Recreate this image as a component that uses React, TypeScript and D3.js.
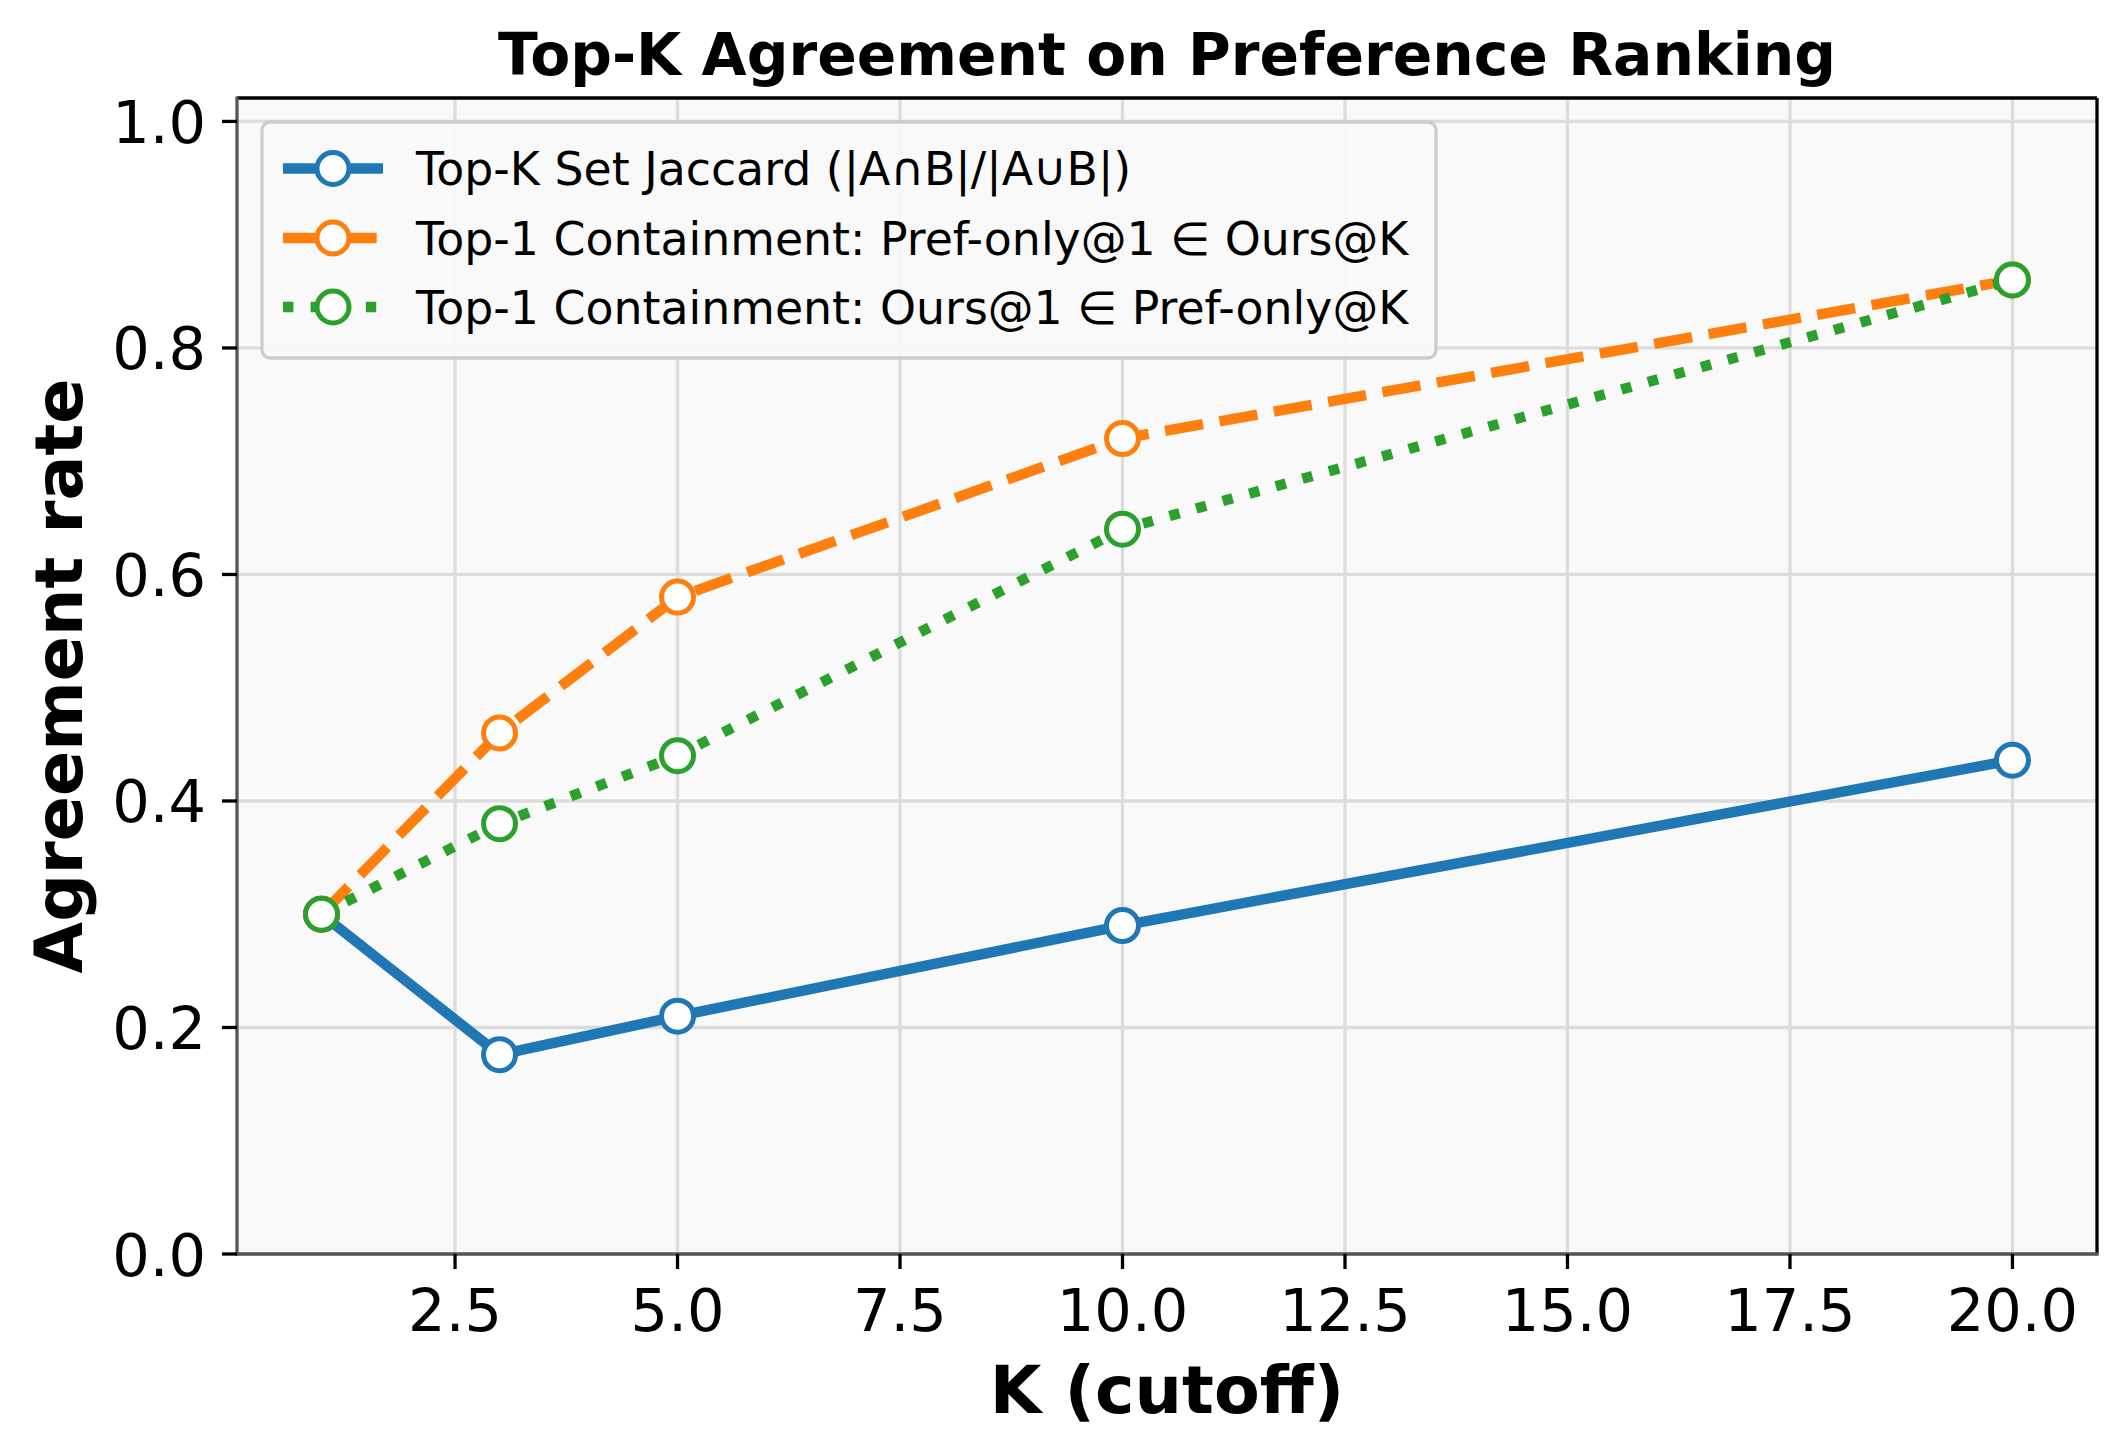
import React from "react";
import * as d3 from "d3";

const kValues = [1, 3, 5, 10, 20];
const jaccard = [0.3, 0.176, 0.21, 0.29, 0.436];
const prefInOurs = [0.3, 0.46, 0.58, 0.72, 0.86];
const oursInPref = [0.3, 0.38, 0.44, 0.64, 0.86];
const xTicks = [2.5, 5.0, 7.5, 10.0, 12.5, 15.0, 17.5, 20.0];
const yTicks = [0.0, 0.2, 0.4, 0.6, 0.8, 1.0];
const seriesNames = [
  "Top-K Set Jaccard (|A∩B|/|A∪B|)",
  "Top-1 Containment: Pref-only@1 ∈ Ours@K",
  "Top-1 Containment: Ours@1 ∈ Pref-only@K",
];
const seriesColors = ["#1f77b4", "#ff7f0e", "#2ca02c"];
const seriesDash = ["none", "38.5,16.7", "10.4,17.2"];
const titleText = "Top-K Agreement on Preference Ranking";
const xLabel = "K (cutoff)";
const yLabel = "Agreement rate";

const W = 2126;
const H = 1455;
const L = 237;
const R = 2097;
const T = 98;
const B = 1254;
const FONT = "'DejaVu Sans', sans-serif";

export default function App() {
  const x = d3.scaleLinear().domain([0.05, 20.95]).range([L, R]);
  const y = d3.scaleLinear().domain([0, 1.0207]).range([B, T]);
  const series = [jaccard, prefInOurs, oursInPref];
  const line = d3
    .line<[number, number]>()
    .x((d) => x(d[0]))
    .y((d) => y(d[1]));
  const lw = 10.4;
  const mr = 16;
  const msw = 5;

  const legX = 262;
  const legY = 122;
  const legW = 1174;
  const legH = 236;
  const rowY = [168.5, 238, 307];

  return (
    <svg
      width={W}
      height={H}
      style={{ position: "absolute", left: 0, top: 0, display: "block" }}
      fontFamily={FONT}
    >
      <rect x={0} y={0} width={W} height={H} fill="#ffffff" />
      <rect x={L} y={T} width={R - L} height={B - T} fill="#f9f9f9" />
      {/* grid */}
      {xTicks.map((t) => (
        <line key={"gx" + t} x1={x(t)} x2={x(t)} y1={T} y2={B} stroke="#dcdcdc" strokeWidth={3.3} />
      ))}
      {yTicks.map((t) => (
        <line key={"gy" + t} x1={L} x2={R} y1={y(t)} y2={y(t)} stroke="#dcdcdc" strokeWidth={3.3} />
      ))}
      {/* series */}
      {series.map((vals, i) => {
        const pts = kValues.map((k, j) => [k, vals[j]] as [number, number]);
        return (
          <g key={"s" + i}>
            <path
              d={line(pts) || ""}
              fill="none"
              stroke={seriesColors[i]}
              strokeWidth={lw}
              strokeDasharray={seriesDash[i]}
              strokeLinejoin="round"
              strokeLinecap="butt"
            />
            {pts.map((p, j) => (
              <circle
                key={j}
                cx={x(p[0])}
                cy={y(p[1])}
                r={mr}
                fill="#ffffff"
                stroke={seriesColors[i]}
                strokeWidth={msw}
              />
            ))}
          </g>
        );
      })}
      {/* spines */}
      <line x1={L} x2={R} y1={T} y2={T} stroke="#000" strokeWidth={3.3} />
      <line x1={R} x2={R} y1={T} y2={B} stroke="#000" strokeWidth={3.3} />
      <line x1={L} x2={L} y1={T - 1.6} y2={B + 1.6} stroke="#555555" strokeWidth={3.3} />
      <line x1={L - 1.6} x2={R + 1.6} y1={B} y2={B} stroke="#555555" strokeWidth={3.3} />
      {/* ticks */}
      {xTicks.map((t) => (
        <g key={"xt" + t}>
          <line x1={x(t)} x2={x(t)} y1={B} y2={B + 15} stroke="#000" strokeWidth={3.3} />
          <text x={x(t)} y={1331} fontSize={59} textAnchor="middle" fill="#000">
            {t.toFixed(1)}
          </text>
        </g>
      ))}
      {yTicks.map((t) => (
        <g key={"yt" + t}>
          <line x1={L - 15} x2={L} y1={y(t)} y2={y(t)} stroke="#000" strokeWidth={3.3} />
          <text x={206} y={y(t) + 21.5} fontSize={59} textAnchor="end" fill="#000">
            {t.toFixed(1)}
          </text>
        </g>
      ))}
      {/* labels */}
      <text x={(L + R) / 2} y={75} fontSize={58.3} fontWeight="bold" textAnchor="middle" fill="#000">
        {titleText}
      </text>
      <text x={(L + R) / 2} y={1413} fontSize={66.7} fontWeight="bold" textAnchor="middle" fill="#000">
        {xLabel}
      </text>
      <text
        transform={`translate(82, ${(T + B) / 2}) rotate(-90)`}
        fontSize={66.7}
        fontWeight="bold"
        textAnchor="middle"
        fill="#000"
      >
        {yLabel}
      </text>
      {/* legend */}
      <rect
        x={legX}
        y={legY}
        width={legW}
        height={legH}
        rx={8}
        ry={8}
        fill="#f9f9f9"
        fillOpacity={0.92}
        stroke="#cccccc"
        strokeWidth={3.3}
      />
      {seriesNames.map((name, i) => (
        <g key={"lg" + i}>
          <line
            x1={283}
            x2={383}
            y1={rowY[i]}
            y2={rowY[i]}
            stroke={seriesColors[i]}
            strokeWidth={lw}
            strokeDasharray={seriesDash[i]}
          />
          <circle cx={333} cy={rowY[i]} r={mr} fill="#ffffff" stroke={seriesColors[i]} strokeWidth={msw} />
          <text x={416} y={rowY[i] + 16.5} fontSize={45.8} fill="#000">
            {name}
          </text>
        </g>
      ))}
    </svg>
  );
}
